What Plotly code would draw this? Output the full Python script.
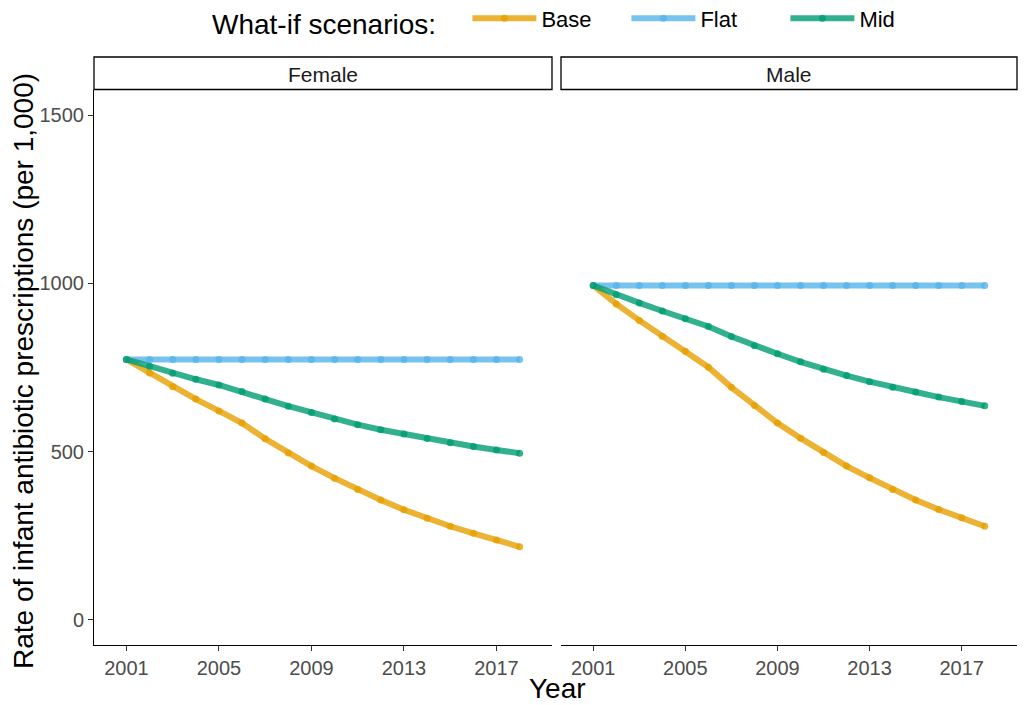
import plotly.graph_objects as go

years = list(range(2001, 2019))
scenarios = ["Base", "Flat", "Mid"]
colors = {"Base": (230, 159, 0), "Flat": (86, 180, 233), "Mid": (0, 158, 115)}

female_base = [774, 734, 693, 656, 621, 585, 538, 496, 457, 421, 387, 356, 327, 302, 278, 257, 237, 217]
female_flat = [774] * 18
female_mid = [774, 754, 733, 715, 698, 679, 656, 635, 616, 597, 580, 565, 552, 539, 526, 515, 505, 495]

male_base = [994, 939, 890, 842, 798, 751, 691, 637, 585, 540, 497, 457, 422, 387, 356, 328, 303, 278]
male_flat = [994] * 18
male_mid = [994, 966, 942, 918, 895, 872, 842, 815, 791, 767, 745, 726, 708, 691, 677, 662, 649, 636]

panels = ["Female", "Male"]
data = {
    "Female": {"Base": female_base, "Flat": female_flat, "Mid": female_mid},
    "Male": {"Base": male_base, "Flat": male_flat, "Mid": male_mid},
}

x_ticks = [2001, 2005, 2009, 2013, 2017]
y_ticks = [0, 500, 1000, 1500]

FONT = "Liberation Sans, Arial, sans-serif"
OFF = 8  # page body margin
W, H = 1026 - OFF, 705 - OFF
ML = 94 - OFF
MT = 90 - OFF
MR = W - (1017 - OFF)
MB = H - (645 - OFF)
PW = W - ML - MR
PH = H - MT - MB


def px_x(xr):
    return (xr - OFF - ML) / PW


def px_y(yr):
    return ((H - MB) - (yr - OFF)) / PH


fig = go.Figure()
for i, panel in enumerate(panels):
    ax = "" if i == 0 else "2"
    for s in scenarios:
        r, g, b = colors[s]
        c = f"rgba({r},{g},{b},0.8)"
        fig.add_trace(go.Scatter(
            x=years, y=data[panel][s], name=s, mode="lines+markers",
            line=dict(color=c, width=6),
            marker=dict(color=c, size=7),
            xaxis="x" + ax, yaxis="y" + ax,
            legendgroup=s, showlegend=(i == 0),
        ))

dom1 = [0, px_x(552)]
dom2 = [px_x(561), 1]

axis_common = dict(
    showgrid=False, zeroline=False, showline=True, linecolor="black", linewidth=1,
    ticks="outside", ticklen=5, tickcolor="#333333",
    tickfont=dict(family=FONT, size=20, color="#4D4D4D"),
)

fig.update_layout(
    width=W, height=H,
    margin=dict(l=ML, r=MR, t=MT, b=MB, autoexpand=False),
    plot_bgcolor="white", paper_bgcolor="white",
    font=dict(family=FONT, color="black"),
    xaxis=dict(domain=dom1, range=[1999.6, 2019.4], tickvals=x_ticks, anchor="y", **axis_common),
    xaxis2=dict(domain=dom2, range=[1999.6, 2019.4], tickvals=x_ticks, anchor="y2", **axis_common),
    yaxis=dict(range=[-75, 1575], tickvals=y_ticks, anchor="x", **axis_common),
    yaxis2=dict(range=[-75, 1575], tickvals=y_ticks, anchor="x2", matches="y",
                showgrid=False, zeroline=False, showline=False, ticks="",
                showticklabels=False),
    legend=dict(
        orientation="h", x=px_x(210), xanchor="left", y=px_y(21), yanchor="middle",
        title=dict(text="What-if scenarios:   ", font=dict(family=FONT, size=28, color="black")),
        font=dict(family=FONT, size=22, color="black"),
        itemwidth=64, entrywidth=80, traceorder="normal",
        bgcolor="rgba(0,0,0,0)",
    ),
)

for i, panel in enumerate(panels):
    ax = "x" if i == 0 else "x2"
    ay = "y" if i == 0 else "y2"
    fig.add_shape(type="rect", xref=f"{ax} domain", yref=f"{ay} domain",
                  x0=0, x1=1, y0=px_y(89.5), y1=px_y(57),
                  line=dict(color="black", width=1.3), fillcolor="white")
    fig.add_annotation(text=panel, xref=f"{ax} domain", yref=f"{ay} domain",
                       x=0.5, y=px_y(74), showarrow=False,
                       xanchor="center", yanchor="middle",
                       font=dict(family=FONT, size=21, color="#1A1A1A"))

fig.add_annotation(text="Rate of infant antibiotic prescriptions (per 1,000)",
                   xref="paper", yref="paper", x=px_x(24), y=px_y(371),
                   textangle=-90, showarrow=False, xanchor="center", yanchor="middle",
                   font=dict(family=FONT, size=28, color="black"))
fig.add_annotation(text="Year", xref="paper", yref="paper",
                   x=px_x(557), y=px_y(688), showarrow=False,
                   xanchor="center", yanchor="middle",
                   font=dict(family=FONT, size=28, color="black"))

fig.write_html("out.html")
